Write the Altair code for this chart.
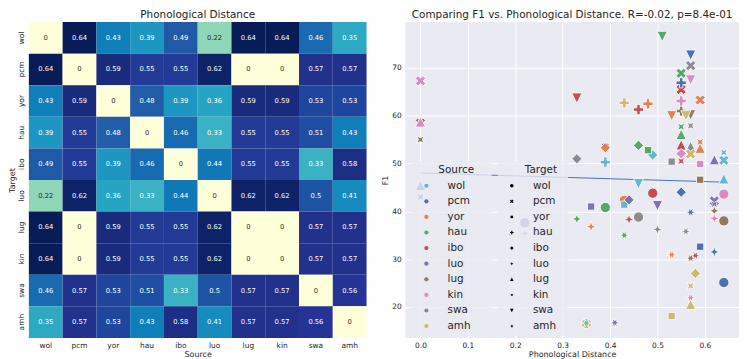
import altair as alt
import pandas as pd

LANGS = ["wol", "pcm", "yor", "hau", "ibo", "luo", "lug", "kin", "swa", "amh"]

# rows = target, columns = source
DIST = [
    [0.00, 0.64, 0.43, 0.39, 0.49, 0.22, 0.64, 0.64, 0.46, 0.35],
    [0.64, 0.00, 0.59, 0.55, 0.55, 0.62, 0.00, 0.00, 0.57, 0.57],
    [0.43, 0.59, 0.00, 0.48, 0.39, 0.36, 0.59, 0.59, 0.53, 0.53],
    [0.39, 0.55, 0.48, 0.00, 0.46, 0.33, 0.55, 0.55, 0.51, 0.43],
    [0.49, 0.55, 0.39, 0.46, 0.00, 0.44, 0.55, 0.55, 0.33, 0.58],
    [0.22, 0.62, 0.36, 0.33, 0.44, 0.00, 0.62, 0.62, 0.50, 0.41],
    [0.64, 0.00, 0.59, 0.55, 0.55, 0.62, 0.00, 0.00, 0.57, 0.57],
    [0.64, 0.00, 0.59, 0.55, 0.55, 0.62, 0.00, 0.00, 0.57, 0.57],
    [0.46, 0.57, 0.53, 0.51, 0.33, 0.50, 0.57, 0.57, 0.00, 0.56],
    [0.35, 0.57, 0.53, 0.43, 0.58, 0.41, 0.57, 0.57, 0.56, 0.00],
]

SRC = ["ibo", "amh", "lug", "lug", "amh", "ibo", "lug", "yor",
       "wol", "wol", "wol", "wol", "wol", "wol", "wol", "wol", "wol",
       "pcm", "pcm", "pcm", "pcm", "pcm", "pcm", "pcm", "pcm", "pcm",
       "yor", "yor", "yor", "yor", "yor", "yor", "yor", "yor",
       "hau", "hau", "hau", "hau", "hau", "hau", "hau", "hau", "hau",
       "ibo", "ibo", "ibo", "ibo", "ibo", "ibo", "ibo",
       "luo", "luo", "luo", "luo", "luo", "luo", "luo", "luo",
       "lug", "lug", "lug", "lug", "lug", "lug",
       "kin", "kin", "kin", "kin", "kin", "kin", "kin", "kin", "kin",
       "swa", "swa", "swa", "swa", "swa", "swa", "swa", "swa",
       "amh", "amh", "amh", "amh", "amh", "amh", "amh"]
TGT = ["yor", "wol", "pcm", "ibo", "luo", "pcm", "hau", "wol",
       "pcm", "yor", "hau", "ibo", "luo", "lug", "kin", "swa", "amh",
       "wol", "yor", "hau", "ibo", "luo", "lug", "kin", "swa", "amh",
       "pcm", "hau", "ibo", "luo", "lug", "kin", "swa", "amh",
       "wol", "pcm", "yor", "ibo", "luo", "lug", "kin", "swa", "amh",
       "wol", "hau", "luo", "lug", "kin", "swa", "amh",
       "wol", "pcm", "yor", "ibo", "lug", "kin", "swa", "amh",
       "wol", "yor", "luo", "kin", "swa", "amh",
       "wol", "pcm", "yor", "hau", "ibo", "luo", "lug", "swa", "amh",
       "wol", "pcm", "yor", "ibo", "luo", "lug", "kin", "amh",
       "pcm", "yor", "hau", "ibo", "lug", "kin", "swa"]
F1 = [53.5, 16.5, 58.5, 52.0, 16.6, 65.5, 61.0, 42.3,
      50.7, 41.4, 50.3, 51.8, 35.4, 46.8, 52.3, 45.8, 16.6,
      25.1, 32.6, 66.9, 44.0, 31.5, 45.4, 43.0, 72.7, 39.8,
      63.3, 62.5, 53.3, 36.8, 53.2, 54.5, 60.0, 30.9,
      40.8, 68.9, 52.8, 53.8, 38.4, 56.1, 57.7, 76.6, 35.0,
      43.8, 61.3, 38.3, 53.9, 50.5, 63.7, 30.7,
      37.6, 42.2, 41.0, 42.4, 50.8, 41.5, 41.2, 16.7,
      38.0, 46.6, 40.1, 55.0, 60.2, 30.2,
      43.6, 67.3, 49.9, 63.1, 52.1, 38.5, 58.7, 67.5, 21.9,
      38.8, 70.5, 50.4, 51.0, 36.2, 53.6, 57.9, 35.8,
      52.0, 18.1, 62.7, 27.0, 20.5, 24.4, 60.0]

COLORS = ["#64B5CD", "#4C72B0", "#DD8452", "#55A868", "#C44E52",
          "#8172B3", "#937860", "#DA8BC3", "#8C8C8C", "#CCB974"]

# ColorBrewer YlGnBu (9 classes)
YLGNBU = ["#ffffd9", "#edf8b1", "#c7e9b4", "#7fcdbb", "#41b6c4",
          "#1d91c0", "#225ea8", "#253494", "#081d58"]
VMAX = 0.64

SHAPES = [
    "circle",
    "M-0.5,-1L0,-0.5L0.5,-1L1,-0.5L0.5,0L1,0.5L0.5,1L0,0.5L-0.5,1L-1,0.5L-0.5,0L-1,-0.5Z",
    "M-0.707,-0.707L0.707,-0.707L0.707,0.707L-0.707,0.707Z",
    "M-0.333,-1L0.333,-1L0.333,-0.333L1,-0.333L1,0.333L0.333,0.333L0.333,1L-0.333,1L-0.333,0.333L-1,0.333L-1,-0.333L-0.333,-0.333Z",
    "M0,-1L1,0L0,1L-1,0Z",
    "M0,-1L0.27,-0.27L1,0L0.27,0.27L0,1L-0.27,0.27L-1,0L-0.27,-0.27Z",
    "M0,-1L1,1L-1,1Z",
    "M0.707,-0.707L0.382,0L0.707,0.707L0,0.382L-0.707,0.707L-0.382,0L-0.707,-0.707L0,-0.382Z",
    "M0,1L1,-1L-1,-1Z",
    "M1,0L0.331,-0.191L0.5,-0.866L0,-0.382L-0.5,-0.866L-0.331,-0.191L-1,0L-0.331,0.191L-0.5,0.866L0,0.382L0.5,0.866L0.331,0.191Z",
]

TXT = "#262626"
FONT = "DejaVu Sans"

# ---------- heatmap ----------
rows = []
for i, t in enumerate(LANGS):
    for j, s in enumerate(LANGS):
        v = DIST[i][j]
        rows.append({"Target": t, "Source": s, "v": v, "label": f"{v:.2g}"})
heat_df = pd.DataFrame(rows)

hbase = alt.Chart(heat_df)
xh = alt.X("Source:N", sort=LANGS, title="Source",
           axis=alt.Axis(labelAngle=0, ticks=False, domain=False, labelFontSize=7.5,
                         labelColor=TXT, titleFontSize=8, titleFontWeight="normal",
                         titleColor=TXT, labelPadding=4, titlePadding=1))
yh = alt.Y("Target:N", sort=LANGS, title="Target",
           axis=alt.Axis(labelAngle=-90, ticks=False, domain=False, labelFontSize=7.5,
                         labelColor=TXT, titleFontSize=8, titleFontWeight="normal",
                         titleColor=TXT, labelPadding=3, titlePadding=1))
stops = [VMAX * k / (len(YLGNBU) - 1) for k in range(len(YLGNBU))]
rect = hbase.mark_rect().encode(
    x=xh, y=yh,
    color=alt.Color("v:Q", scale=alt.Scale(domain=stops, range=YLGNBU), legend=None),
)
txt = hbase.mark_text(fontSize=6.8).encode(
    x=xh, y=yh, text="label:N",
    color=alt.condition(alt.datum.v < 0.3, alt.value(TXT), alt.value("white")),
)
heat = (rect + txt).properties(
    width=340, height=318,
    title=alt.TitleParams("Phonological Distance", fontSize=10.5, fontWeight="normal",
                          color=TXT, offset=2),
)

# ---------- scatter ----------
sc_df = pd.DataFrame({"Source": SRC, "Target": TGT, "F1": F1})
sc_df["dist"] = [DIST[LANGS.index(t)][LANGS.index(s)] for s, t in zip(SRC, TGT)]

xs = alt.X("dist:Q", scale=alt.Scale(domain=[-0.032, 0.672], nice=False, zero=False),
           title="Phonological Distance",
           axis=alt.Axis(values=[0, 0.1, 0.2, 0.3, 0.4, 0.5, 0.6], format=".1f",
                         ticks=False, domain=False, gridColor="white", gridWidth=1,
                         labelFontSize=7.5, labelColor=TXT, titleFontSize=8,
                         titleFontWeight="normal", titleColor=TXT, labelPadding=4,
                         titlePadding=1))
ys = alt.Y("F1:Q", scale=alt.Scale(domain=[13.5, 79.6], nice=False, zero=False),
           title="F1",
           axis=alt.Axis(values=[20, 30, 40, 50, 60, 70], ticks=False, domain=False,
                         gridColor="white", gridWidth=1, labelFontSize=7.5,
                         labelColor=TXT, titleFontSize=8, titleFontWeight="normal",
                         titleColor=TXT, labelPadding=4, titlePadding=2))

ZW = "\u200b"
NB = "\u00a0"
LEG_FILL = "rgba(234,234,242,0.8)"
points = alt.Chart(sc_df).mark_point(filled=True, size=105, opacity=1,
                                     stroke="white", strokeWidth=0.8).encode(
    x=xs, y=ys,
    color=alt.Color("Source:N", scale=alt.Scale(domain=LANGS, range=COLORS),
                    legend=alt.Legend(orient="none", legendX=6, legendY=140,
                                      title=ZW + NB * 7 + "Source" + NB * 4 + ZW,
                                      titleFontSize=10.5, titleFontWeight="normal",
                                      titleColor=TXT, titlePadding=5,
                                      labelFontSize=10.5, labelColor=TXT,
                                      symbolType="circle", symbolSize=18,
                                      symbolStrokeWidth=0, symbolOffset=6,
                                      labelOffset=16, rowPadding=4.7, padding=4,
                                      fillColor=LEG_FILL)),
    shape=alt.Shape("Target:N", sort=LANGS, scale=alt.Scale(range=SHAPES),
                    legend=alt.Legend(orient="none", legendX=93, legendY=140,
                                      title=ZW + NB * 7 + "Target" + NB * 2 + ZW,
                                      titleFontSize=10.5, titleFontWeight="normal",
                                      titleColor=TXT, titlePadding=5,
                                      labelFontSize=10.5, labelColor=TXT,
                                      symbolSize=13, symbolFillColor="black",
                                      symbolStrokeWidth=0, symbolOffset=5,
                                      labelOffset=16, rowPadding=4.7, padding=4,
                                      fillColor=LEG_FILL)),
)

reg = alt.Chart(sc_df).transform_regression("dist", "F1").mark_line(
    color="#4C72B0", strokeWidth=1).encode(x=xs, y=ys)

scatter = (reg + points).properties(
    width=336, height=318,
    title=alt.TitleParams("Comparing F1 vs. Phonological Distance. R=-0.02, p=8.4e-01",
                          fontSize=10.5, fontWeight="normal", color=TXT, offset=2),
    view=alt.ViewBackground(fill="#EAEAF2", stroke=None),
)

chart = (
    alt.hconcat(heat, scatter, spacing=15)
    .resolve_scale(color="independent", shape="independent")
    .resolve_legend(color="independent", shape="independent")
    .properties(padding=0)
    .configure(font=FONT)
    .configure_view(stroke=None)
)

chart.save("out.html", embed_options={"renderer": "svg", "actions": False})
